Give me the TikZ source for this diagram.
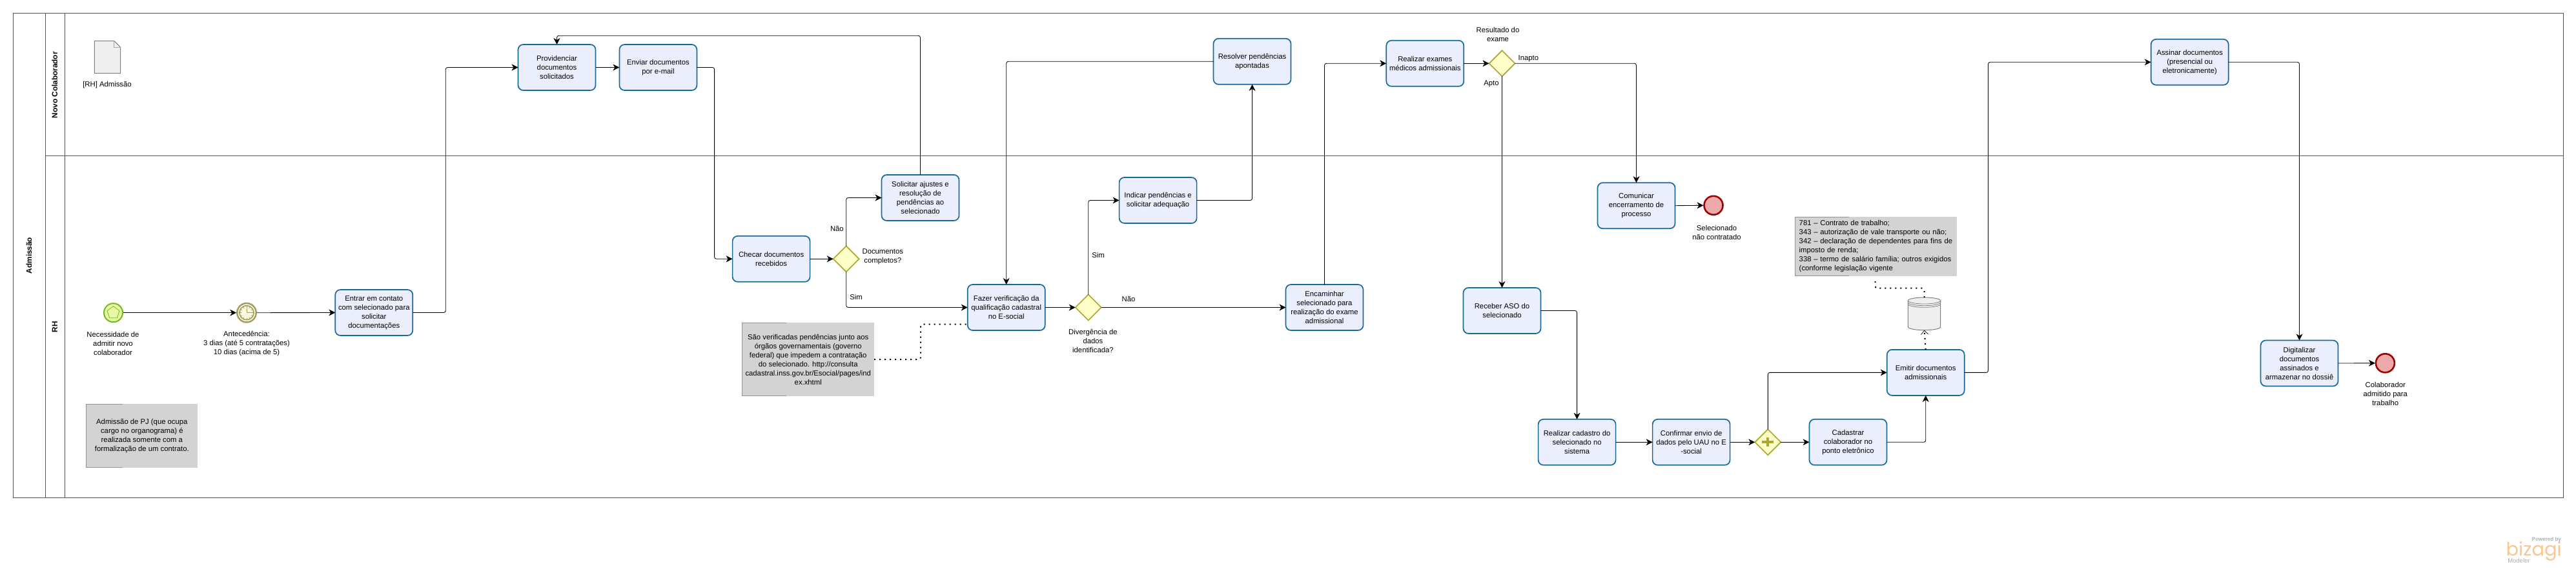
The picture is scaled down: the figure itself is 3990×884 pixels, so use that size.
\documentclass[tikz,border=0pt]{standalone}
\usepackage{fontspec}
\setmainfont{Liberation Sans}
\newfontfamily\logofont{Poppins}
\usetikzlibrary{arrows.meta,shapes.geometric}
\definecolor{taskline}{HTML}{176A9C}
\definecolor{taskfill}{HTML}{EBEFFD}
\definecolor{gateline}{HTML}{ABA82F}
\definecolor{gatefill}{HTML}{FEFEC8}
\definecolor{notefill}{HTML}{D3D3D3}
\definecolor{noteline}{HTML}{929292}
\definecolor{poolline}{HTML}{555555}
\definecolor{startline}{HTML}{78B81E}
\definecolor{startfill}{HTML}{E6F9A8}
\definecolor{timerline}{HTML}{A39C5E}
\definecolor{timerfill}{HTML}{FBF9E2}
\definecolor{endline}{HTML}{A00000}
\definecolor{endfill}{HTML}{EDA9A9}
\definecolor{artfill}{HTML}{EFEFEF}
\definecolor{artline}{HTML}{808080}
\definecolor{logoorange}{HTML}{F9C792}
\definecolor{logogray}{HTML}{A8ADB2}
\newcommand{\txt}{\fontsize{11.3}{14}\selectfont}
\tikzset{
  task/.style={rectangle,rounded corners=8pt,draw=taskline,fill=taskfill,line width=1.7pt,
    minimum width=120pt,minimum height=71pt,inner sep=0pt,outer sep=0pt,align=center,font=\txt},
  gate/.style={diamond,aspect=1,draw=gateline,fill=gatefill,line width=1.7pt,
    minimum width=40pt,minimum height=40pt,inner sep=0pt,outer sep=0pt},
  endev/.style={circle,draw=endline,fill=endfill,line width=2.6pt,minimum size=29pt,inner sep=0pt,outer sep=1pt},
  lbl/.style={align=center,font=\txt,inner sep=0pt},
  notebox/.style={rectangle,fill=notefill,inner sep=0pt,outer sep=0pt,align=center,font=\txt},
  lane/.style={rotate=90,font=\fontsize{11.8}{14}\selectfont\bfseries,inner sep=0pt},
  flow/.style={draw=black,line width=.85pt,rounded corners=3pt,-{Stealth[length=10pt,width=10pt,inset=3pt]}},
  assoc/.style={draw=black,line width=2pt,rounded corners=3pt,dash pattern=on 2pt off 6pt},
  bracket/.style={draw=noteline,line width=1pt},
}
\begin{document}
\begin{tikzpicture}[x=1pt,y=-1pt]
\useasboundingbox (0,0) rectangle (3990,884);
% pool and lanes
\draw[poolline,line width=.85pt] (20.4,20.3) rectangle (3970,771.3);
\draw[poolline,line width=.85pt] (70.4,20.3) -- (70.4,771.3);
\draw[poolline,line width=.85pt] (100.5,20.3) -- (100.5,771.3);
\draw[poolline,line width=.85pt] (70.4,241.3) -- (3970,241.3);
\node[lane] (poolname) at (45,396) {Admissão};
\node[lane] (lane1) at (84.7,131.7) {Novo Colaborador};
\node[lane] (lane2) at (84.7,506.7) {RH};
% document artifact
\node[inner sep=0pt,minimum width=40pt,minimum height=50pt] (doc) at (166.5,88.5) {};
\draw[artline,fill=artfill,line width=1pt] (146.4,63.3) -- (176.7,63.3) -- (186.7,73.3) -- (186.7,113.7) -- (146.4,113.7) -- cycle;
\draw[artline!70,line width=.7pt] (176.7,63.3) -- (176.7,73.3) -- (186.7,73.3);
\node[lbl] (doclbl) at (166,131.7) {[RH] Admissão};
% events
\node[circle,draw=startline,fill=startfill,line width=2pt,minimum size=29pt,inner sep=0pt,outer sep=1pt] (start) at (175.5,484.7) {};
\node[regular polygon,regular polygon sides=5,draw=startline,line width=.8pt,minimum size=20pt,inner sep=0pt] (penta) at (175.5,484.7) {};
\node[lbl] (startlbl) at (175,532.3) {Necessidade de\\admitir novo\\colaborador};
\node[circle,draw=timerline,fill=timerfill,line width=2.4pt,minimum size=29.5pt,inner sep=0pt,outer sep=1pt] (timer) at (382,484.7) {};
\node[circle,draw=timerline,line width=1.6pt,minimum size=22pt,inner sep=0pt] (timerin) at (382,484.7) {};
\foreach \a in {0,30,...,330}{\draw[timerline,line width=.7pt] (382,484.7)++(\a:8pt) -- ++(\a:2pt);}
\draw[timerline,line width=.9pt] (382,478) -- (382,484.7) -- (390,484.7);
\node[lbl] (timerlbl) at (382,532.3) {Antecedência:\\3 dias (até 5 contratações)\\10 dias (acima de 5)};
% tasks
\node[task] (entrar) at (579.3,484.5) {Entrar em contato\\com selecionado para\\solicitar\\documentações};
\node[task] (prov) at (862.5,104.5) {Providenciar\\documentos\\solicitados};
\node[task] (enviar) at (1019.4,104.5) {Enviar documentos\\por e-mail};
\node[task] (checar) at (1194.6,401.3) {Checar documentos\\recebidos};
\node[task] (solic) at (1425.5,306.5) {Solicitar ajustes e\\resolução de\\pendências ao\\selecionado};
\node[task] (fazer) at (1558.7,476.5) {Fazer verificação da\\qualificação cadastral\\no E-social};
\node[task] (indicar) at (1793.6,310.5) {Indicar pendências e\\solicitar adequação};
\node[task] (resolver) at (1939.5,95.3) {Resolver pendências\\apontadas};
\node[task] (encam) at (2051.5,476.5) {Encaminhar\\selecionado para\\realização do exame\\admissional};
\node[task] (exames) at (2207.3,98.3) {Realizar exames\\médicos admissionais};
\node[task] (comun) at (2534.5,318.7) {Comunicar\\encerramento de\\processo};
\node[task] (receber) at (2326.5,481.5) {Receber ASO do\\selecionado};
\node[task] (cadastro) at (2442.6,685.3) {Realizar cadastro do\\selecionado no\\sistema};
\node[task] (confirmar) at (2619.6,685.3) {Confirmar envio de\\dados pelo UAU no E\\-social};
\node[task] (ponto) at (2862.5,685.3) {Cadastrar\\colaborador no\\ponto eletrônico};
\node[task] (emitir) at (2982.7,577.4) {Emitir documentos\\admissionais};
\node[task] (assinar) at (3391.7,96.3) {Assinar documentos\\(presencial ou\\eletronicamente)};
\node[task] (digit) at (3561.5,563) {Digitalizar\\documentos\\assinados e\\armazenar no dossiê};
% gateways
\node[gate] (g1) at (1310.7,401.3) {};
\node[gate] (g2) at (1685.7,476.5) {};
\node[gate] (g3) at (2326.5,98.3) {};
\node[gate] (g4) at (2738.3,685.3) {};
\draw[gateline,line width=4pt] (2729.3,685.3) -- (2747.3,685.3) (2738.3,678.3) -- (2738.3,692.3);
% end events
\node[endev] (end1) at (2654,318.3) {};
\node[endev] (end2) at (3694.4,562.8) {};
% labels
\node[lbl] (g1lbl) at (1367.3,398) {Documentos\\completos?};
\node[lbl] (nao1) at (1296.4,354) {Não};
\node[lbl] (sim1) at (1326,460.3) {Sim};
\node[lbl] (g2lbl) at (1692.9,528) {Divergência de\\dados\\identificada?};
\node[lbl] (sim2) at (1701,395.3) {Sim};
\node[lbl] (nao2) at (1748,463) {Não};
\node[lbl] (g3lbl) at (2320,53) {Resultado do\\exame};
\node[lbl] (inapto) at (2367.3,90.3) {Inapto};
\node[lbl] (apto) at (2310,129.3) {Apto};
\node[lbl] (end1lbl) at (2659,360.3) {Selecionado\\não contratado};
\node[lbl] (end2lbl) at (3694.7,610.7) {Colaborador\\admitido para\\trabalho};
% notes
\node[notebox,minimum width=172.3pt,minimum height=98.4pt] (note1) at (219.85,675.5) {Admissão de PJ (que ocupa\\cargo no organograma) é\\realizada somente com a\\formalização de um contrato.};
\draw[bracket] (190,626.3) -- (133.7,626.3) -- (133.7,724.7) -- (190,724.7);
\node[notebox,minimum width=204.5pt,minimum height=113.4pt] (note2) at (1251.75,557) {São verificadas pendências junto aos\\órgãos governamentais (governo\\federal) que impedem a contratação\\do selecionado. http://consulta\\cadastral.inss.gov.br/Esocial/pages/ind\\ex.xhtml};
\draw[bracket] (1217.9,500.3) -- (1149.5,500.3) -- (1149.5,613.7) -- (1217.9,613.7);
\node[notebox,minimum width=251pt,minimum height=91.7pt,text width=237.6pt,align=left] (note3) at (2905.5,381.8) {781 – Contrato de trabalho;\\343 – autorização de vale transporte ou não;\\342 – declaração de dependentes para fins de\\imposto de renda;\\338 – termo de salário família; outros exigidos\\(conforme legislação vigente};
\draw[bracket] (2864,336) -- (2780,336) -- (2780,427.7) -- (2864,427.7);
% data store
\node[inner sep=0pt,minimum width=50.4pt,minimum height=50.7pt,outer sep=0pt] (ds) at (2980.5,486.35) {};
\draw[artline,fill=artfill,line width=1pt] (2955.3,466) arc[x radius=25.2,y radius=5,start angle=180,end angle=360] -- (3005.7,506.7) arc[x radius=25.2,y radius=5,start angle=0,end angle=180] -- cycle;
\foreach \yy in {466,468.7,471.3}{\draw[artline,line width=.8pt] (2955.3,\yy) arc[x radius=25.2,y radius=5,start angle=180,end angle=0];}
% free ends
\coordinate (v1) at (690.3,300);
\coordinate (v2) at (1106.6,250);
\coordinate (top1) at (1100,55.3);
\coordinate (v3) at (3079.5,300);
\coordinate (v4) at (1426,530);
\coordinate (f1) at (1499,502.7);
\coordinate (v5) at (2904.6,446.7);
\coordinate (n3) at (2904.6,430.5);
% flows
\draw[flow] (start.east) -- (timer.west);
\draw[flow] (timer.east) -- (entrar.west);
\draw[flow] (entrar.east) -| (v1) |- (prov.west);
\draw[flow] (prov.east) -- (enviar.west);
\draw[flow] (enviar.east) -| (v2) |- (checar.west);
\draw[flow] (checar.east) -- (g1.west);
\draw[flow] (g1.north) |- (solic.west);
\draw[flow] (g1.south) |- (fazer.west);
\draw[flow] (solic.north) |- (top1) -| (prov.north);
\draw[flow] (fazer.east) -- (g2.west);
\draw[flow] (g2.north) |- (indicar.west);
\draw[flow] (g2.east) -- (encam.west);
\draw[flow] (indicar.east) -| (resolver.south);
\draw[flow] (resolver.west) -| (fazer.north);
\draw[flow] (encam.north) |- (exames.west);
\draw[flow] (exames.east) -- (g3.west);
\draw[flow] (g3.east) -| (comun.north);
\draw[flow] (g3.south) -- (receber.north);
\draw[flow] (comun.east) -- (end1.west);
\draw[flow] (receber.east) -| (cadastro.north);
\draw[flow] (cadastro.east) -- (confirmar.west);
\draw[flow] (confirmar.east) -- (g4.west);
\draw[flow] (g4.east) -- (ponto.west);
\draw[flow] (g4.north) |- (emitir.west);
\draw[flow] (ponto.east) -| (emitir.south);
\draw[flow] (emitir.east) -| (v3) |- (assinar.west);
\draw[flow] (assinar.east) -| (digit.north);
\draw[flow] (digit.east) -- (end2.west);
% associations
\draw[assoc] (note2.east) -| (v4) |- (f1);
\draw[assoc,-{Straight Barb[length=6pt,width=11pt,line width=.7pt]}] (emitir.north) -- (ds.south);
\draw[assoc] (ds.north) |- (v5) -- (n3);
% logo
\node[font=\fontsize{8}{9}\selectfont\bfseries,text=logogray,anchor=east,inner sep=0pt] (powered) at (3967,836) {Powered by};
\node[font=\fontsize{29}{30}\logofont\selectfont,text=logoorange,anchor=east,inner sep=0pt] (bizagi) at (3968,854) {bizagi};
\node[font=\fontsize{9.5}{10}\selectfont,text=logogray,anchor=west,inner sep=0pt] (modeler) at (3884,869) {Modeler};
\end{tikzpicture}
\end{document}
